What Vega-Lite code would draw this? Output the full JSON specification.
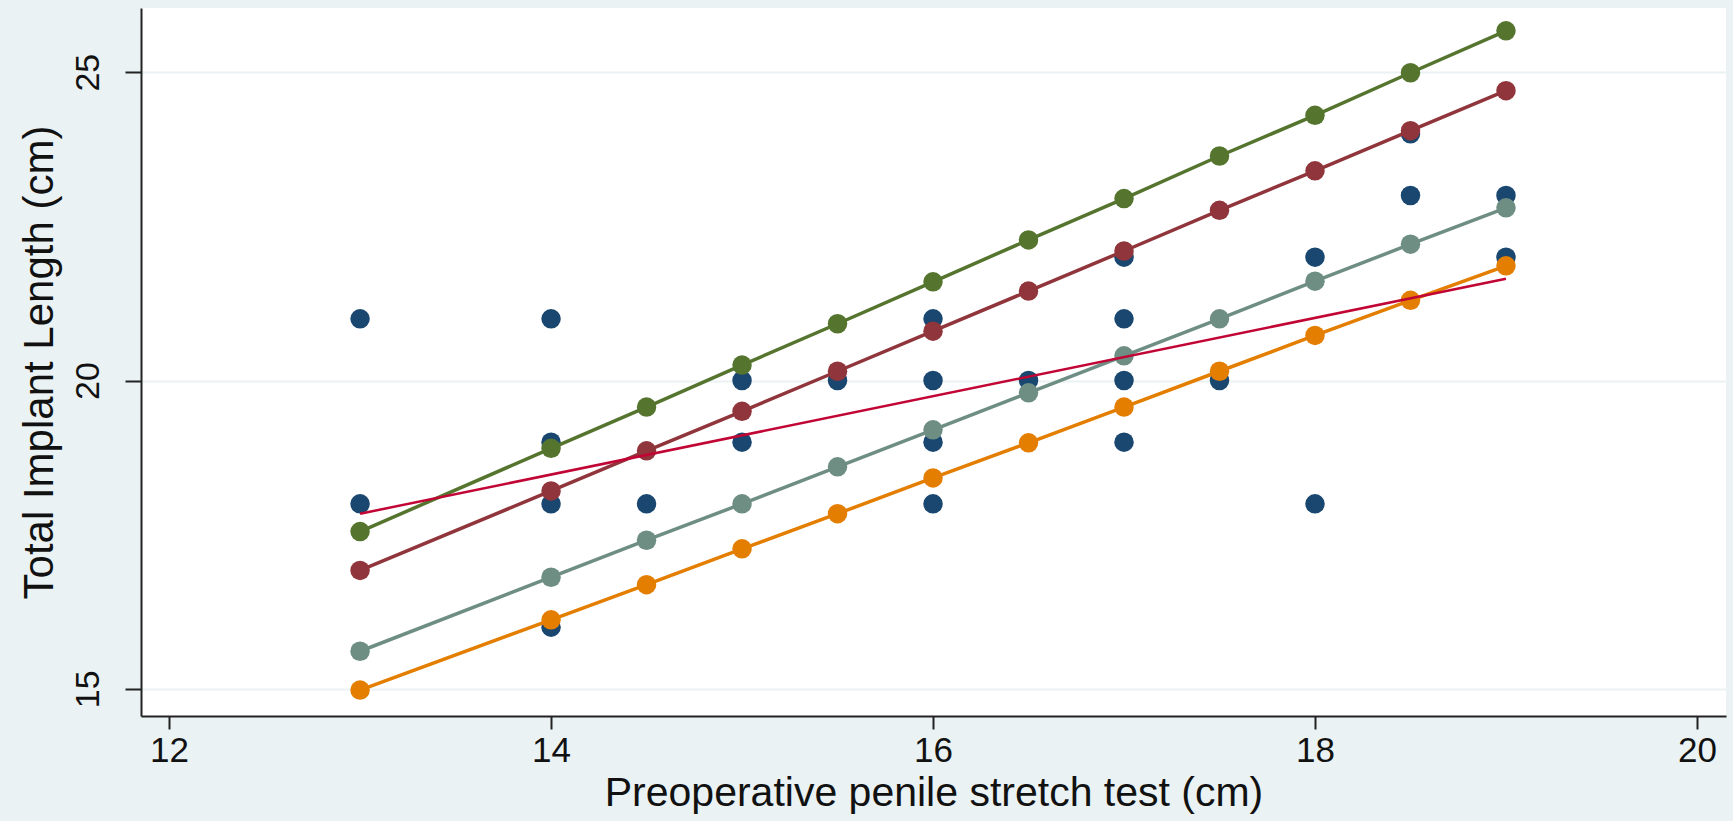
{
  "$schema": "https://vega.github.io/schema/vega-lite/v6.json",
  "autosize": "none",
  "width": 1585,
  "height": 708,
  "padding": {"left": 141, "top": 8, "right": 7, "bottom": 105},
  "background": "#eaf2f3",
  "config": {
    "view": {"fill": "white", "stroke": null},
    "font": "Liberation Sans"
  },
  "data": {
    "values": [
      {"x": 13, "y": 21, "s": "observed"}, {"x": 13, "y": 18, "s": "observed"},
      {"x": 14, "y": 21, "s": "observed"}, {"x": 14, "y": 19, "s": "observed"}, {"x": 14, "y": 18, "s": "observed"}, {"x": 14, "y": 16, "s": "observed"},
      {"x": 14.5, "y": 18, "s": "observed"},
      {"x": 15, "y": 20, "s": "observed"}, {"x": 15, "y": 19, "s": "observed"},
      {"x": 15.5, "y": 20, "s": "observed"},
      {"x": 16, "y": 21, "s": "observed"}, {"x": 16, "y": 20, "s": "observed"}, {"x": 16, "y": 19, "s": "observed"}, {"x": 16, "y": 18, "s": "observed"},
      {"x": 16.5, "y": 20, "s": "observed"},
      {"x": 17, "y": 22, "s": "observed"}, {"x": 17, "y": 21, "s": "observed"}, {"x": 17, "y": 20, "s": "observed"}, {"x": 17, "y": 19, "s": "observed"},
      {"x": 17.5, "y": 20, "s": "observed"},
      {"x": 18, "y": 22, "s": "observed"}, {"x": 18, "y": 18, "s": "observed"},
      {"x": 18.5, "y": 24, "s": "observed"}, {"x": 18.5, "y": 23, "s": "observed"},
      {"x": 19, "y": 23, "s": "observed"}, {"x": 19, "y": 22, "s": "observed"},

      {"x": 13, "y": 17.55, "s": "A"}, {"x": 14, "y": 18.9, "s": "A"}, {"x": 14.5, "y": 19.57, "s": "A"}, {"x": 15, "y": 20.25, "s": "A"}, {"x": 15.5, "y": 20.92, "s": "A"}, {"x": 16, "y": 21.6, "s": "A"}, {"x": 16.5, "y": 22.28, "s": "A"}, {"x": 17, "y": 22.95, "s": "A"}, {"x": 17.5, "y": 23.64, "s": "A"}, {"x": 18, "y": 24.3, "s": "A"}, {"x": 18.5, "y": 24.99, "s": "A"}, {"x": 19, "y": 25.67, "s": "A"},

      {"x": 13, "y": 16.92, "s": "B"}, {"x": 14, "y": 18.21, "s": "B"}, {"x": 14.5, "y": 18.86, "s": "B"}, {"x": 15, "y": 19.5, "s": "B"}, {"x": 15.5, "y": 20.15, "s": "B"}, {"x": 16, "y": 20.8, "s": "B"}, {"x": 16.5, "y": 21.45, "s": "B"}, {"x": 17, "y": 22.1, "s": "B"}, {"x": 17.5, "y": 22.76, "s": "B"}, {"x": 18, "y": 23.4, "s": "B"}, {"x": 18.5, "y": 24.05, "s": "B"}, {"x": 19, "y": 24.7, "s": "B"},

      {"x": 13, "y": 15.61, "s": "C"}, {"x": 14, "y": 16.81, "s": "C"}, {"x": 14.5, "y": 17.41, "s": "C"}, {"x": 15, "y": 18.0, "s": "C"}, {"x": 15.5, "y": 18.6, "s": "C"}, {"x": 16, "y": 19.2, "s": "C"}, {"x": 16.5, "y": 19.8, "s": "C"}, {"x": 17, "y": 20.4, "s": "C"}, {"x": 17.5, "y": 21.0, "s": "C"}, {"x": 18, "y": 21.61, "s": "C"}, {"x": 18.5, "y": 22.21, "s": "C"}, {"x": 19, "y": 22.8, "s": "C"},

      {"x": 13, "y": 14.98, "s": "D"}, {"x": 14, "y": 16.12, "s": "D"}, {"x": 14.5, "y": 16.69, "s": "D"}, {"x": 15, "y": 17.27, "s": "D"}, {"x": 15.5, "y": 17.84, "s": "D"}, {"x": 16, "y": 18.42, "s": "D"}, {"x": 16.5, "y": 18.99, "s": "D"}, {"x": 17, "y": 19.57, "s": "D"}, {"x": 17.5, "y": 20.15, "s": "D"}, {"x": 18, "y": 20.73, "s": "D"}, {"x": 18.5, "y": 21.3, "s": "D"}, {"x": 19, "y": 21.86, "s": "D"},

      {"x": 13, "y": 17.84, "s": "fit"}, {"x": 19, "y": 21.65, "s": "fit"}
    ]
  },
  "encoding": {
    "x": {
      "field": "x", "type": "quantitative",
      "scale": {"domain": [11.853, 20.152], "nice": false, "zero": false},
      "axis": {
        "title": "Preoperative penile stretch test (cm)",
        "values": [12, 14, 16, 18, 20],
        "grid": false,
        "domainColor": "#222222", "domainWidth": 2,
        "tickColor": "#222222", "tickWidth": 2, "tickSize": 13,
        "labelFontSize": 35, "labelColor": "#111111", "labelPadding": 4,
        "titleFontSize": 41, "titleFontWeight": "normal", "titleColor": "#111111", "titlePadding": 5
      }
    },
    "y": {
      "field": "y", "type": "quantitative",
      "scale": {"domain": [14.56, 26.04], "nice": false, "zero": false},
      "axis": {
        "title": "Total Implant Length (cm)",
        "values": [15, 20, 25],
        "grid": true, "gridColor": "#eaf2f3", "gridWidth": 2,
        "domainColor": "#222222", "domainWidth": 2,
        "tickColor": "#222222", "tickWidth": 2, "tickSize": 16,
        "labelAngle": -90, "labelAlign": "center", "labelBaseline": "bottom",
        "labelFontSize": 34, "labelColor": "#111111", "labelPadding": 20,
        "titleFontSize": 42, "titleFontWeight": "normal", "titleColor": "#111111", "titlePadding": 10
      }
    }
  },
  "layer": [
    {
      "transform": [{"filter": "datum.s === 'observed'"}],
      "mark": {"type": "point", "filled": true, "size": 380, "opacity": 1, "color": "#1a476f"},
      "encoding": {}
    },
    {
      "transform": [{"filter": "datum.s !== 'observed' && datum.s !== 'fit'"}],
      "mark": {"type": "line", "strokeWidth": 3.5, "point": {"filled": true, "size": 380, "opacity": 1}},
      "encoding": {
        "color": {
          "field": "s", "type": "nominal",
          "scale": {"domain": ["A", "B", "C", "D"], "range": ["#55752f", "#90353b", "#6e8e84", "#e37e00"]},
          "legend": null
        }
      }
    },
    {
      "transform": [{"filter": "datum.s === 'fit'"}],
      "mark": {"type": "line", "strokeWidth": 2.5, "color": "#c10534"},
      "encoding": {}
    }
  ]
}
